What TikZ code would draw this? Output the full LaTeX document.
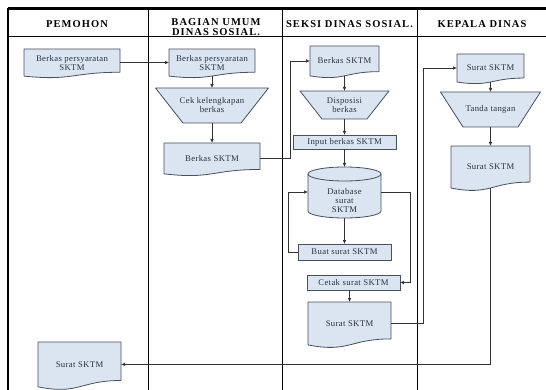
\documentclass[tikz,border=0pt]{standalone}
\usepackage{fontspec}
\setmainfont{Liberation Serif}
\newfontfamily\headfont{Liberation Serif}[LetterSpace=10]
\newfontfamily\bodyfont{Liberation Serif}[LetterSpace=4]
\usetikzlibrary{arrows.meta,calc}

\definecolor{boxfill}{HTML}{DBE5F1}
\definecolor{boxline}{HTML}{46505F}
\definecolor{txt}{HTML}{2A3040}
\definecolor{wire}{HTML}{333333}

\tikzset{
  frameline/.style={draw=black, line width=0.8pt},
  head/.style={font=\headfont\bfseries\fontsize{10.5}{9.5}\selectfont, text=black, align=center, inner sep=0},
  shapepath/.style={fill=boxfill, draw=boxline, line width=0.8pt, line join=round},
  boxtext/.style={inner sep=0, outer sep=0, align=center, text=txt, font=\bodyfont\fontsize{8.7}{9}\selectfont},
  procbox/.style={boxtext, fill=boxfill, draw=boxline, line width=0.8pt},
  flow/.style={draw=wire, line width=0.7pt, -{Latex[length=4pt,width=3.6pt]}},
}

% document symbol: name, left, right, top, height, text
\newcommand\flowdoc[6]{%
  \path[shapepath] (#2,#4) -- (#3,#4) -- (#3,{#4+0.802*#5})
    .. controls ({(#2+#3)/2},{#4+0.802*#5}) and ({(#2+#3)/2},{#4+1.107*#5}) .. (#2,{#4+0.934*#5}) -- cycle;
  \node[boxtext, minimum width={(#3-#2)*1pt}, minimum height={0.934*#5*1pt}]
    (#1) at ({(#2+#3)/2},{#4+0.467*#5}) {#6};
}
% manual operation symbol: name, centre x, top half width, bottom half width, top, bottom, text
\newcommand\flowtrap[7]{%
  \path[shapepath] ({#2-#3},#5) -- ({#2+#3},#5) -- ({#2+#4},#6) -- ({#2-#4},#6) -- cycle;
  \node[boxtext, minimum width={2*#4*1pt}, minimum height={(#6-#5)*1pt}]
    (#1) at (#2,{(#5+#6)/2}) {#7};
}
% process box: name, left, right, top, bottom, text
\newcommand\flowproc[6]{%
  \node[procbox, minimum width={(#3-#2)*1pt}, minimum height={(#5-#4)*1pt}]
    (#1) at ({(#2+#3)/2},{(#4+#5)/2}) {#6};
}

\begin{document}
\begin{tikzpicture}[x=1pt, y=-1pt]
\useasboundingbox (0,0) rectangle (546,390);

% swimlane frame
\draw[black, line width=2.6pt] (8,8.5) -- (546,8.5);
\draw[frameline] (8,36) -- (546,36);
\draw[black, line width=1.2pt] (8,8.5) -- (8,390);
\draw[frameline] (148,8.5) -- (148,390);
\draw[frameline] (282,8.5) -- (282,390);
\draw[frameline] (417,8.5) -- (417,390);

% lane titles
\node[head] (hPem) at (77,24.5) {PEMOHON};
\node[head] (hBag) at (216,27) {BAGIAN UMUM\\DINAS SOSIAL.};
\node[head] (hSek) at (349.5,24.5) {SEKSI DINAS SOSIAL.};
\node[head] (hKep) at (482,24.5) {KEPALA DINAS};

% PEMOHON
\flowdoc{doc1}{24}{120}{49}{29}{Berkas persyaratan\\SKTM}
\flowdoc{doc8}{38}{121}{342}{48}{Surat SKTM}

% BAGIAN UMUM DINAS SOSIAL
\flowdoc{doc2}{169}{255}{49}{29}{Berkas persyaratan\\SKTM}
\flowtrap{cek}{212}{56.5}{29}{88}{123}{Cek kelengkapan\\berkas}
\flowdoc{doc3}{164}{260}{143}{33}{Berkas SKTM}

% SEKSI DINAS SOSIAL
\flowdoc{doc4}{310}{379}{46}{32}{Berkas SKTM}
\flowtrap{disp}{344.5}{44.5}{22.5}{91}{119}{Disposisi\\berkas}
\flowproc{input}{293}{396}{135}{149}{Input berkas SKTM}

% database cylinder
\path[shapepath] (308,174) -- (308,211)
  .. controls (308,214.87) and (324.34,218) .. (344.5,218)
  .. controls (364.66,218) and (381,214.87) .. (381,211)
  -- (381,174)
  .. controls (381,170.13) and (364.66,167) .. (344.5,167)
  .. controls (324.34,167) and (308,170.13) .. (308,174) -- cycle;
\draw[draw=boxline, line width=0.8pt] (308,174)
  .. controls (308,177.87) and (324.34,181) .. (344.5,181)
  .. controls (364.66,181) and (381,177.87) .. (381,174);
\node[boxtext] (db) at (344.5,201) {Database\\surat\\SKTM};
\coordinate (dbTop) at (344.5,167);
\coordinate (dbBot) at (344.5,218);
\coordinate (dbL) at (308,192);
\coordinate (dbR) at (381,192);

\flowproc{buat}{298}{391}{244}{260}{Buat surat SKTM}
\flowproc{cetak}{307}{400}{275}{290}{Cetak surat SKTM}
\flowdoc{doc5}{308}{391}{302}{46}{Surat SKTM}

% KEPALA DINAS
\flowdoc{doc6}{457}{524}{54}{30}{Surat SKTM}
\flowtrap{tt}{490.5}{50}{27.5}{92}{127}{Tanda tangan}
\flowdoc{doc7}{451}{530}{146}{45}{Surat SKTM}

% routing columns for the bent connectors
\coordinate (bendA) at (290,0);
\coordinate (bendB) at (288,0);
\coordinate (bendC) at (410,0);
\coordinate (bendD) at (423,0);

% connectors
\draw[flow] (doc1.east) -- (doc2.west);
\draw[flow] (doc2.south) -- (cek.north);
\draw[flow] (cek.south) -- (doc3.north);
\draw[flow] (doc3.east) -- (doc3.east -| bendA) |- (doc4.west);
\draw[flow] (doc4.south) -- (disp.north);
\draw[flow] (disp.south) -- (input.north);
\draw[flow] (input.south) -- (dbTop);
\draw[flow] (dbBot) -- (buat.north);
\draw[flow] (buat.west) -- (buat.west -| bendB) |- (dbL);
\draw[flow] (dbR) -- (dbR -| bendC) |- (cetak.east);
\draw[flow] (cetak.south -| doc5.north) -- (doc5.north);
\draw[flow] (doc5.east) -- (doc5.east -| bendD) |- (doc6.west);
\draw[flow] (doc6.south) -- (tt.north);
\draw[flow] (tt.south) -- (doc7.north);
\draw[flow] (doc7.south) |- (doc8.east);
\end{tikzpicture}
\end{document}
